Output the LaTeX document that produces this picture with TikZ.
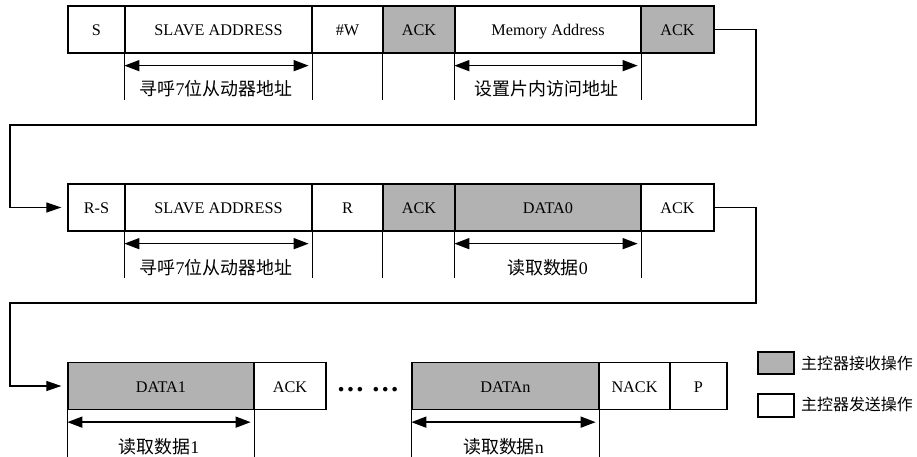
\documentclass[tikz,border=0pt]{standalone}
\usepackage{fontspec}
\setmainfont{Liberation Serif}
\newfontfamily\cjk{Noto Sans CJK SC}
\usetikzlibrary{arrows.meta}
\definecolor{recvgray}{RGB}{178,178,178}
\begin{document}
\begin{tikzpicture}[x=1bp,y=-1bp,
  cell/.style={draw, line width=1.3bp, minimum height=47bp, inner sep=0pt, text height=13bp, text depth=0pt, font=\fontsize{16.3}{18}\selectfont, anchor=center},
  recv/.style={cell, fill=recvgray},
  send/.style={cell, fill=white},
  tick/.style={line width=1.1bp},
  dimline/.style={line width=1.5bp, {Triangle[length=15bp,width=11bp]}-{Triangle[length=15bp,width=11bp]}, shorten >=4bp},
  lbl/.style={font=\fontsize{18}{20}\selectfont, inner sep=0pt},
  link/.style={line width=1.1bp, -{Triangle[length=15bp,width=10bp]}},
  legtext/.style={anchor=west, inner sep=0pt, font=\cjk\fontsize{16}{18}\selectfont},
]
\useasboundingbox (0,0) rectangle (917,457);

% ---------- Row 1 ----------
\node[send, minimum width=57bp]  (r1s)   at (96.5,29.5)  {S};
\node[send, minimum width=187bp] (r1sa)  at (218.5,29.5) {SLAVE ADDRESS};
\node[send, minimum width=71bp]  (r1w)   at (347.5,29.5) {\#W};
\node[recv, minimum width=72bp]  (r1ack) at (419,29.5)   {ACK};
\node[send, minimum width=186bp] (r1ma)  at (548,29.5)   {Memory Address};
\node[recv, minimum width=73bp]  (r1ack2) at (677.5,29.5) {ACK};

\draw[tick] (r1sa.south west) -- ++(0,46);
\draw[tick] (r1sa.south east) -- ++(0,46);
\draw[tick] (r1ack.south west) -- ++(0,46);
\draw[tick] (r1ma.south west) -- ++(0,46);
\draw[tick] (r1ma.south east) -- ++(0,46);
\draw[dimline] ([yshift=-12bp]r1sa.south west) -- ([yshift=-12bp]r1sa.south east);
\draw[dimline] ([yshift=-12bp]r1ma.south west) -- ([yshift=-12bp]r1ma.south east);
\node[lbl] (r1l1) at (216,89) {{\cjk 寻呼}7{\cjk 位从动器地址}};
\node[lbl] (r1l2) at (546.5,89) {\cjk 设置片内访问地址};

% ---------- Row 2 ----------
\node[send, minimum width=57bp]  (r2rs)  at (96.5,207.5)  {R-S};
\node[send, minimum width=187bp] (r2sa)  at (218.5,207.5) {SLAVE ADDRESS};
\node[send, minimum width=71bp]  (r2r)   at (347.5,207.5) {R};
\node[recv, minimum width=72bp]  (r2ack) at (419,207.5)   {ACK};
\node[recv, minimum width=186bp] (r2d0)  at (548,207.5)   {DATA0};
\node[send, minimum width=73bp]  (r2ack2) at (677.5,207.5) {ACK};

\draw[tick] (r2sa.south west) -- ++(0,46);
\draw[tick] (r2sa.south east) -- ++(0,46);
\draw[tick] (r2ack.south west) -- ++(0,46);
\draw[tick] (r2d0.south west) -- ++(0,46);
\draw[tick] (r2d0.south east) -- ++(0,46);
\draw[dimline] ([yshift=-12bp]r2sa.south west) -- ([yshift=-12bp]r2sa.south east);
\draw[dimline] ([yshift=-12bp]r2d0.south west) -- ([yshift=-12bp]r2d0.south east);
\node[lbl] (r2l1) at (216,268) {{\cjk 寻呼}7{\cjk 位从动器地址}};
\node[lbl] (r2l2) at (547.5,268) {{\cjk 读取数据}0};

% ---------- Row 3 ----------
\node[recv, minimum width=186bp] (r3d1)  at (161,386)   {DATA1};
\node[send, minimum width=72bp]  (r3ack) at (290,386)   {ACK};
\node[anchor=base, inner sep=0pt, font=\bfseries\fontsize{28}{30}\selectfont] (dots) at (368,391.5) {… …};
\node[recv, minimum width=187bp] (r3dn)  at (505.5,386) {DATAn};
\node[send, minimum width=71bp]  (r3nack) at (634.5,386) {NACK};
\node[send, minimum width=57bp]  (r3p)   at (698.5,386) {P};

\draw[tick] (r3d1.south west) -- ++(0,47);
\draw[tick] (r3d1.south east) -- ++(0,47);
\draw[tick] (r3dn.south west) -- ++(0,47);
\draw[tick] (r3dn.south east) -- ++(0,47);
\draw[dimline] ([yshift=-12bp]r3d1.south west) -- ([yshift=-12bp]r3d1.south east);
\draw[dimline] ([yshift=-12bp]r3dn.south west) -- ([yshift=-12bp]r3dn.south east);
\node[lbl] (r3l1) at (159,447) {{\cjk 读取数据}1};
\node[lbl] (r3l2) at (503.5,447) {{\cjk 读取数据}n};

% ---------- Connectors ----------
\coordinate (c1a) at (756,125);
\coordinate (c1b) at (10,207.5);
\draw[link] (r1ack2.east) -| (c1a) -| (c1b) -- ([xshift=-6bp]r2rs.west);
\coordinate (c2a) at (756,303);
\coordinate (c2b) at (10,386);
\draw[link] (r2ack2.east) -| (c2a) -| (c2b) -- ([xshift=-6bp]r3d1.west);

% ---------- Legend ----------
\node[recv, minimum width=36bp, minimum height=22bp] (lg1) at (776,363) {};
\node[send, minimum width=36bp, minimum height=23bp] (lg2) at (776,405.5) {};
\node[legtext] (lt1) at (801,363) {主控器接收操作};
\node[legtext] (lt2) at (801,404.5) {主控器发送操作};
\end{tikzpicture}
\end{document}
